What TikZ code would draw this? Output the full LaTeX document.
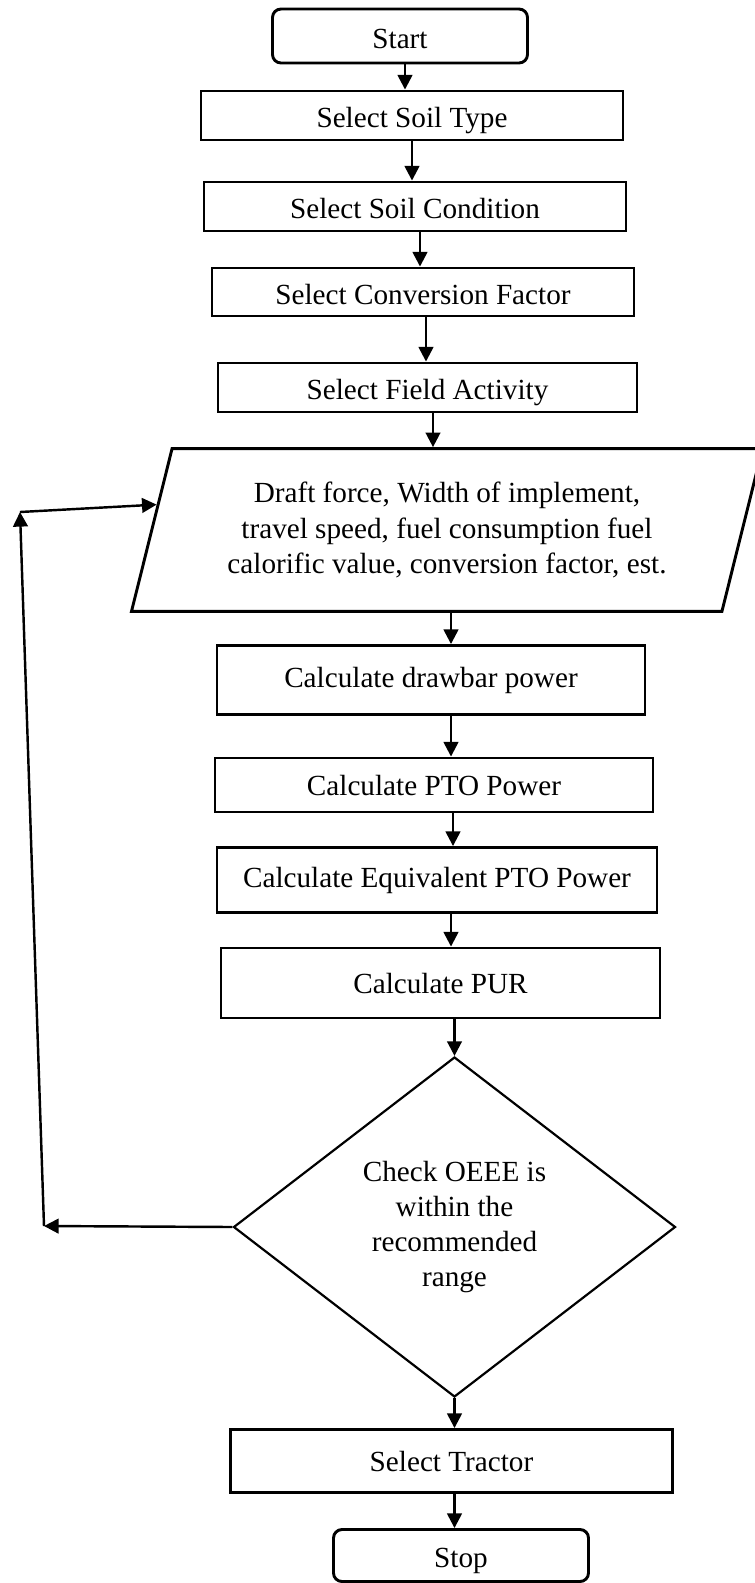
\documentclass[tikz,border=0pt]{standalone}
\usepackage{fontspec}
\setmainfont{Liberation Serif}
\usetikzlibrary{shapes.geometric,arrows.meta}
\newlength\pxu
\setlength\pxu{0.411pt}
\tikzset{
  every node/.style={font=\fontsize{12}{14.5}\selectfont},
  terminal/.style={draw, line width=1.2pt, rounded corners=3.5pt, inner sep=0pt,
    text height=13pt, text depth=3pt, minimum width=255\pxu},
  select/.style={draw, line width=1.2pt, inner sep=0pt, text height=13pt, text depth=3pt},
  process/.style={draw, line width=1.2pt, inner sep=0pt},
  io/.style={trapezium, trapezium left angle=76, trapezium right angle=104,
    trapezium stretches body, draw, line width=1.2pt, align=center,
    inner xsep=0pt, inner ysep=13.8pt},
  decision/.style={diamond, draw, line width=0.9pt, align=center, inner sep=0pt},
  arr/.style={-{Triangle[length=6pt,width=6pt]}, line width=1pt}
}
\begin{document}
\begin{tikzpicture}[x=\pxu, y=-\pxu]
\fill[white] (0,0) rectangle (755,1583);
\clip (0,0) rectangle (755,1583);
% boxes
\node[terminal, minimum height=54\pxu] (start) at (400,36) {Start};
\node[select, minimum width=422\pxu, minimum height=49\pxu] (soiltype) at (412,115.5) {Select Soil Type};
\node[select, minimum width=422\pxu, minimum height=49\pxu] (soilcond) at (415,206.5) {Select Soil Condition};
\node[select, minimum width=422\pxu, minimum height=48\pxu] (convfactor) at (423,292) {Select Conversion Factor};
\node[select, minimum width=419\pxu, minimum height=49\pxu] (fieldact) at (427.5,387.5) {Select Field Activity};
\node[io, minimum width=631\pxu] (param) at (447,530)
  {Draft force, Width of implement,\\ travel speed, fuel consumption fuel\\ calorific value, conversion factor, est.};
\node[process, minimum width=428\pxu, minimum height=69\pxu] (drawbar) at (431,680) {Calculate drawbar power};
\node[process, minimum width=438\pxu, minimum height=54\pxu] (ptopower) at (434,785) {Calculate PTO Power};
\node[process, minimum width=440\pxu, minimum height=65\pxu] (equivpto) at (437,880) {Calculate Equivalent PTO Power};
\node[process, minimum width=439\pxu, minimum height=70\pxu] (pur) at (440.5,983) {Calculate PUR};
\node[decision, minimum width=442\pxu, minimum height=340\pxu] (check) at (454.5,1227)
  {Check OEEE is\\ within the\\ recommended\\ range};
\node[process, minimum width=442\pxu, minimum height=63\pxu] (tractor) at (451.5,1461) {Select Tractor};
\node[terminal, minimum height=52\pxu] (stop) at (461,1555.5) {Stop};
% feedback corners
\coordinate (fb1) at (44,1226);
\coordinate (fb2) at (20,512);
% arrows
\draw[arr] (start.south -| 405,0) -- (soiltype.north -| 405,0);
\draw[arr] (soiltype.south -| 412,0) -- (soilcond.north -| 412,0);
\draw[arr] (soilcond.south -| 420,0) -- (convfactor.north -| 420,0);
\draw[arr] (convfactor.south -| 426,0) -- (fieldact.north -| 426,0);
\draw[arr] (fieldact.south -| 433,0) -- (param.north -| 433,0);
\draw[arr] (param.south -| 451,0) -- (drawbar.north -| 451,0);
\draw[arr] (drawbar.south -| 451,0) -- (ptopower.north -| 451,0);
\draw[arr] (ptopower.south -| 453,0) -- (equivpto.north -| 453,0);
\draw[arr] (equivpto.south -| 451,0) -- (pur.north -| 451,0);
\draw[arr] (pur.south -| check.north) -- (check.north);
\draw[arr] (check.south) -- (tractor.north -| check.south);
\draw[arr] (tractor.south -| check.south) -- (stop.north -| check.south);
\draw[arr] (check.west) -- (fb1);
\draw[arr] (fb1) -- (fb2);
\draw[arr] (fb2) -- (param.175);
\end{tikzpicture}
\end{document}
